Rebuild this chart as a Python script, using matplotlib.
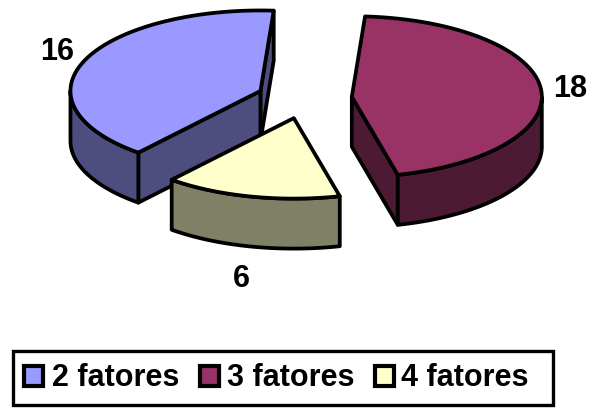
"""Exploded 3D-style pie of factor counts with a boxed legend underneath."""

import numpy as np
import matplotlib
matplotlib.use("Agg")
import matplotlib.pyplot as plt
from matplotlib.patches import Polygon, Rectangle

plt.rcParams["font.family"] = ["Liberation Sans", "DejaVu Sans"]

# data
categories = ["2 fatores", "3 fatores", "4 fatores"]
values = [16, 18, 6]
top_colors = ["#9999FF", "#993366", "#FFFFCC"]
side_colors = ["#4D4D80", "#4D1A33", "#808066"]

# pie geometry, in pixels
CX, CY = 304.5, 98.5
RX, RY = 190.0, 80.5
DEPTH = 50.0
EXPLODE = 0.25
START_DEG = 230.0
LW = 2.7
FONT = 22

fig = plt.figure(figsize=(5.92, 4.08), dpi=100)
ax = fig.add_axes([0, 0, 1, 1])
ax.set_xlim(0, 592)
ax.set_ylim(408, 0)
ax.axis("off")


def rim(t_deg, cx, cy):
    t = np.radians(t_deg)
    return np.column_stack([cx + RX * np.cos(t), cy - RY * np.sin(t)])


def face(pts, color, z):
    ax.add_patch(Polygon(pts, closed=True, facecolor=color, edgecolor="black",
                         lw=LW, joinstyle="round", zorder=z))


# slices run clockwise from the start angle
sweeps = np.array(values) / sum(values) * 360.0
ends = START_DEG - np.cumsum(sweeps)
slices = []
for i, sweep in enumerate(sweeps):
    t0, t1 = ends[i], ends[i] + sweep      # t0 < t1, counter-clockwise
    mid = np.radians((t0 + t1) / 2)
    cx = CX + EXPLODE * RX * np.cos(mid)
    cy = CY - EXPLODE * RY * np.sin(mid)
    slices.append((i, t0, t1, cx, cy))

# back to front: blue, red, then the yellow slice on top
for z, (i, t0, t1, cx, cy) in enumerate(slices):
    base = 10 * (z + 1)
    apex = np.array([[cx, cy]])
    drop = np.array([0, DEPTH])

    # cut faces that turn towards the viewer
    for t, normal in ((t0, t0 - 90), (t1, t1 + 90)):
        if np.sin(np.radians(normal)) < 0:
            p = rim(np.array([t]), cx, cy)
            face(np.vstack([apex, p, p + drop, apex + drop]), side_colors[i], base)

    # outer wall, only the lower half of the ellipse shows
    tt = np.linspace(t0, t1, 200)
    tt = tt[np.sin(np.radians(tt)) <= 0]
    if len(tt) > 1:
        edge = rim(tt, cx, cy)
        face(np.vstack([edge, (edge + drop)[::-1]]), side_colors[i], base + 1)

    # top surface
    face(np.vstack([apex, rim(np.linspace(t0, t1, 200), cx, cy)]), top_colors[i], base + 2)

# value labels
label_pos = [(57, 52), (570, 89), (241, 279)]
for v, (x, y) in zip(values, label_pos):
    ax.text(x, y, str(v), ha="center", va="center", fontsize=FONT,
            fontweight="bold", color="black", zorder=50)

# legend box
ax.add_patch(Rectangle((12.5, 350.5), 540, 54, facecolor="white", edgecolor="black",
                       lw=2.4, zorder=40))
swatch_x = [24, 200, 375]
text_x = [52, 227, 401]
for name, color, sx, tx in zip(categories, top_colors, swatch_x, text_x):
    ax.add_patch(Rectangle((sx, 366), 19, 20, facecolor=color, edgecolor="black",
                           lw=3.0, zorder=41))
    ax.text(tx, 378.5, name, ha="left", va="center", fontsize=FONT,
            fontweight="bold", color="black", zorder=42)

fig.savefig("out.png", dpi=100)
plt.close(fig)
